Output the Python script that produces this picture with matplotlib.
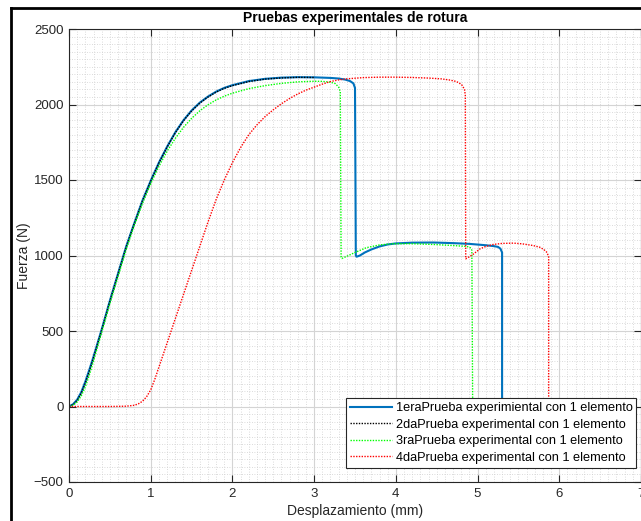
import numpy as np
import matplotlib
matplotlib.use("Agg")
import matplotlib.pyplot as plt
from matplotlib.lines import Line2D
from matplotlib.ticker import MultipleLocator

plt.rcParams['font.family'] = ['Liberation Sans', 'DejaVu Sans']

# Test 1 (solid blue)
x1 = [0.0, 0.05, 0.1, 0.15, 0.2, 0.25, 0.3, 0.35, 0.4, 0.45, 0.5, 0.6, 0.7, 0.8, 0.9,
      1.0, 1.1, 1.2, 1.3, 1.4, 1.5, 1.6, 1.7, 1.8, 1.9, 2.0, 2.2, 2.4, 2.6, 2.8, 3.0,
      3.2, 3.3, 3.38, 3.44, 3.48, 3.50, 3.51, 3.52, 3.56, 3.62, 3.7, 3.8, 3.9, 4.0, 4.2,
      4.46, 4.7, 4.9, 5.1, 5.2, 5.25, 5.28, 5.30, 5.30]
y1 = [0, 15, 45, 95, 165, 245, 330, 420, 510, 605, 700, 880, 1060, 1215, 1365,
      1495, 1615, 1720, 1815, 1895, 1960, 2012, 2052, 2085, 2110, 2128, 2155, 2170, 2178, 2181, 2180,
      2176, 2172, 2165, 2155, 2140, 2110, 1000, 992, 1000, 1020, 1040, 1060, 1073, 1080, 1085,
      1086, 1082, 1077, 1068, 1062, 1057, 1045, 1020, 0]

# Test 2 (black dotted)
x2 = [0.0, 0.05, 0.1, 0.15, 0.2, 0.25, 0.3, 0.35, 0.4, 0.45, 0.5, 0.6, 0.7, 0.8, 0.9,
      1.0, 1.1, 1.2, 1.3, 1.4, 1.5, 1.6, 1.7, 1.8, 1.9, 2.0, 2.2, 2.4, 2.6, 2.8, 3.0]
y2 = [0, 12, 40, 88, 155, 235, 322, 414, 506, 600, 696, 876, 1056, 1212, 1362,
      1492, 1612, 1717, 1812, 1892, 1957, 2009, 2049, 2082, 2107, 2125, 2152, 2168, 2176, 2180, 2179]

# Test 3 (green dotted)
x3 = [0.0, 0.05, 0.1, 0.15, 0.2, 0.25, 0.3, 0.35, 0.4, 0.45, 0.5, 0.6, 0.7, 0.8, 0.9,
      1.0, 1.1, 1.2, 1.3, 1.4, 1.5, 1.6, 1.7, 1.8, 1.9, 2.0, 2.2, 2.4, 2.6, 2.8, 3.0,
      3.1, 3.2, 3.26, 3.3, 3.32, 3.33, 3.34, 3.4, 3.5, 3.64, 3.8, 3.97, 4.2, 4.46, 4.7,
      4.87, 4.91, 4.93, 4.94]
y3 = [0, 8, 30, 70, 130, 210, 300, 395, 490, 585, 680, 860, 1040, 1200, 1345,
      1475, 1590, 1690, 1775, 1848, 1908, 1958, 1998, 2030, 2055, 2075, 2105, 2125, 2140, 2150, 2154,
      2153, 2148, 2138, 2115, 2085, 990, 980, 995, 1020, 1052, 1070, 1078, 1078, 1073, 1066,
      1060, 1052, 1035, 0]

# Test 4 (red dotted)
x4 = [0.0, 0.5, 0.7, 0.8, 0.85, 0.9, 0.95, 1.0, 1.05, 1.1, 1.15, 1.2, 1.3, 1.4, 1.5,
      1.6, 1.7, 1.8, 1.9, 2.0, 2.1, 2.2, 2.3, 2.4, 2.5, 2.6, 2.7, 2.8, 2.9, 3.0, 3.1,
      3.2, 3.3, 3.4, 3.6, 3.8, 4.0, 4.2, 4.4, 4.55, 4.65, 4.72, 4.77, 4.81, 4.84, 4.85,
      4.855, 4.88, 4.95, 5.03, 5.1, 5.19, 5.3, 5.44, 5.55, 5.68, 5.76, 5.81, 5.85, 5.87, 5.87]
y4 = [0, 0, 2, 8, 18, 35, 65, 110, 180, 260, 340, 420, 580, 740, 900,
      1060, 1220, 1370, 1500, 1615, 1715, 1800, 1865, 1920, 1965, 2005, 2040, 2070, 2095, 2115, 2135,
      2152, 2163, 2170, 2178, 2181, 2181, 2179, 2175, 2170, 2163, 2155, 2145, 2128, 2100, 2060,
      978, 985, 1010, 1044, 1060, 1073, 1080, 1082, 1077, 1066, 1055, 1040, 1020, 990, 0]

labels = [
    "1eraPrueba experimiental con 1 elemento",
    "2daPrueba experimental con 1 elemento",
    "3raPrueba experimental con 1 elemento",
    "4daPrueba experimental con 1 elemento",
]

fig = plt.figure(figsize=(6.41, 5.21), dpi=100)
W, H = 641, 521
ax = fig.add_axes([69 / W, 1 - 482 / H, (641 - 69) / W, (482 - 29) / H])

ax.plot(x1, y1, color='#0072BD', lw=1.5, label=labels[0])
ax.plot(x2, y2, color='black', lw=1.0, ls=(0, (1, 1)), label=labels[1])
ax.plot(x3, y3, color='#00FF00', lw=1.0, ls=(0, (1, 1)), label=labels[2])
ax.plot(x4, y4, color='#FF0000', lw=1.0, ls=(0, (1, 1)), label=labels[3])

ax.set_xlim(0, 7)
ax.set_ylim(-500, 2500)
ax.xaxis.set_major_locator(MultipleLocator(1))
ax.xaxis.set_minor_locator(MultipleLocator(0.1))
ax.yaxis.set_major_locator(MultipleLocator(500))
ax.yaxis.set_minor_locator(MultipleLocator(50))

ax.grid(True, which='major', color='#d4d4d4', lw=0.8, ls='-')
ax.grid(True, which='minor', color='#cfcfcf', lw=0.6, ls=(0, (1, 2)))
ax.set_axisbelow(True)

for s in ax.spines.values():
    s.set_color('#262626')
    s.set_linewidth(0.8)

ax.tick_params(which='major', direction='in', length=5, width=0.8, colors='#262626',
               labelsize=9.5, top=True, right=True, pad=4)
ax.tick_params(which='minor', length=0)

ax.set_title("Pruebas experimentales de rotura", fontsize=10, fontweight='bold', pad=5)
ax.set_xlabel("Desplazamiento (mm)", fontsize=10, color='#262626', labelpad=3)
ax.set_ylabel("Fuerza (N)", fontsize=10, color='#262626', labelpad=2)

leg = ax.legend(loc='lower right', bbox_to_anchor=(0.992, 0.032), fontsize=9.2,
                frameon=True, fancybox=False, edgecolor='#262626', framealpha=1,
                handlelength=3.3, handletextpad=0.3, borderpad=0.3, labelspacing=0.35,
                borderaxespad=0)
leg.get_frame().set_linewidth(0.8)

# outer frame of the figure window
fig.add_artist(Line2D([11 / W, 11 / W], [0, 1 - 8 / H], color='black', lw=2,
                      transform=fig.transFigure))
fig.add_artist(Line2D([11 / W, 1], [1 - 8 / H, 1 - 8 / H], color='black', lw=2,
                      transform=fig.transFigure))

fig.savefig("out.png", dpi=100)
